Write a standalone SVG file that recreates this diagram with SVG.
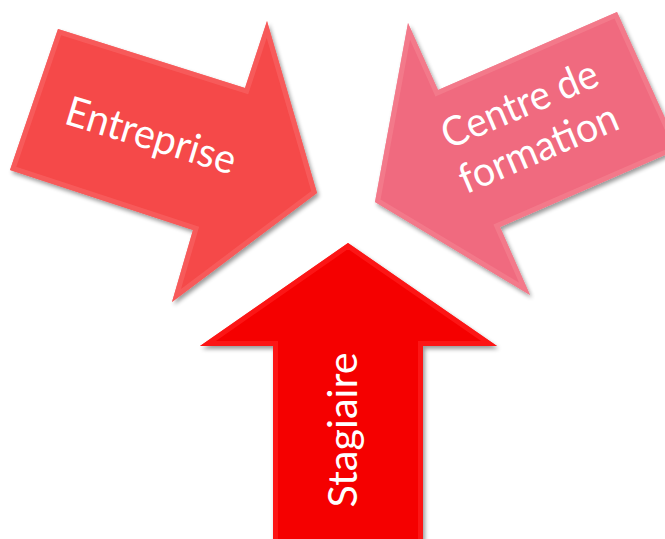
<svg xmlns="http://www.w3.org/2000/svg" xmlns:xlink="http://www.w3.org/1999/xlink" width="665" height="539" viewBox="0 0 665 539">
<style>
.lbl{font-family:Lato,"Open Sans","Liberation Sans",sans-serif;font-size:41px;fill:#ffffff;text-anchor:middle}
.bevel{fill:none;stroke-width:10;stroke-linejoin:miter;stroke-opacity:0.7}
</style>
<defs>
<filter id="sh" x="-10%" y="-10%" width="130%" height="130%">
<feGaussianBlur in="SourceAlpha" stdDeviation="2"/>
<feOffset dx="2" dy="3" result="b"/>
<feComponentTransfer><feFuncA type="linear" slope="0.4"/></feComponentTransfer>
<feMerge><feMergeNode/><feMergeNode in="SourceGraphic"/></feMerge>
</filter>
<polygon id="pA" points="58,29 245,88 267,21 317,193 172,302 193,230 10,170"/>
<polygon id="pB" points="617,12 679,149 500,227 530,295 375,202 408,23 438,90"/>
<polygon id="pC" points="348,243 497,346 423,346 423,545 273,545 273,346 200,346"/>
<clipPath id="cA"><use xlink:href="#pA"/></clipPath>
<clipPath id="cB"><use xlink:href="#pB"/></clipPath>
<clipPath id="cC"><use xlink:href="#pC"/></clipPath>
</defs>
<g id="node-entreprise">
<use xlink:href="#pA" fill="#f54848" filter="url(#sh)"/>
<use xlink:href="#pA" class="bevel" stroke="#f86262" clip-path="url(#cA)"/>
<text class="lbl" transform="translate(147,149) rotate(17)" textLength="176" lengthAdjust="spacingAndGlyphs">Entreprise</text>
</g>
<g id="node-centre">
<use xlink:href="#pB" fill="#f06a7f" filter="url(#sh)"/>
<use xlink:href="#pB" class="bevel" stroke="#f4808f" clip-path="url(#cB)"/>
<g transform="translate(525,117) rotate(-23)">
<text class="lbl" x="0" y="0" textLength="166" lengthAdjust="spacingAndGlyphs">Centre de</text>
<text class="lbl" x="0" y="48" textLength="169" lengthAdjust="spacingAndGlyphs">formation</text>
</g>
</g>
<g id="node-stagiaire">
<use xlink:href="#pC" fill="#f50000" filter="url(#sh)"/>
<use xlink:href="#pC" class="bevel" stroke="#ff1e1e" clip-path="url(#cC)"/>
<text class="lbl" transform="translate(357,430) rotate(-90)" textLength="155" lengthAdjust="spacingAndGlyphs">Stagiaire</text>
</g>
<g id="connectors"/>
</svg>
